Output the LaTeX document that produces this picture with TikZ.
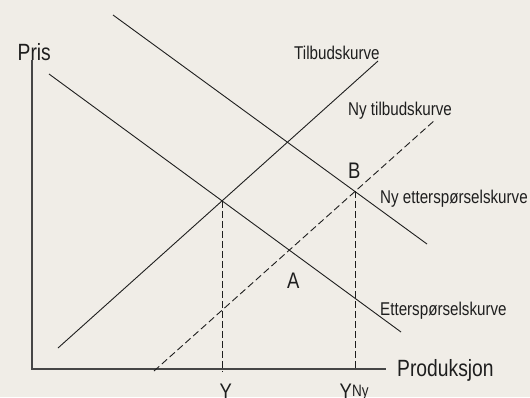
\documentclass[tikz,border=0pt]{standalone}
\usepackage{fontspec}
\setmainfont{Liberation Sans}[FakeStretch=0.82]
\usetikzlibrary{intersections}
\definecolor{bg}{RGB}{240,237,231}
\definecolor{ink}{RGB}{30,30,30}
\definecolor{axis}{RGB}{70,70,70}
\tikzset{
  curve/.style={draw=ink, line width=0.9pt},
  newcurve/.style={draw=ink, line width=0.9pt, dash pattern=on 7pt off 3.5pt},
  guide/.style={draw=ink, line width=0.9pt, dash pattern=on 7pt off 3pt},
  axisline/.style={draw=axis, line width=1.3pt},
  lab/.style={inner sep=0pt, anchor=base west, text=ink, font=\fontsize{18.5}{20}\selectfont},
  biglab/.style={inner sep=0pt, anchor=base west, text=ink, font=\fontsize{23.5}{26}\selectfont},
  ptlab/.style={inner sep=0pt, anchor=base west, text=ink, font=\fontsize{22.5}{25}\selectfont},
  suplab/.style={inner sep=0pt, anchor=base west, text=ink, font=\fontsize{16.5}{18}\selectfont}
}
\begin{document}
\begin{tikzpicture}[x=1pt,y=-1pt]
\fill[bg] (0,0) rectangle (530,397);
\useasboundingbox (0,0) rectangle (530,397);
% axes
\coordinate (O) at (32,369);
\coordinate (ytop) at (32,60);
\coordinate (xend) at (386,369);
\draw[axisline] (ytop) -- (O) -- (xend);
% curve end points
\coordinate (D1a) at (49,74);
\coordinate (D1b) at (401,332);
\coordinate (D2a) at (113,15);
\coordinate (D2b) at (427,244);
\coordinate (S1a) at (58,348);
\coordinate (S1b) at (378,61);
\coordinate (S2a) at (154,371);
\coordinate (S2b) at (435,120);
\draw[curve, name path=D1] (D1a) -- (D1b);
\draw[curve, name path=D2] (D2a) -- (D2b);
\draw[curve, name path=S1] (S1a) -- (S1b);
\draw[newcurve, name path=S2] (S2a) -- (S2b);
\path[name intersections={of=D1 and S1, by=E1}];
\path[name intersections={of=D2 and S2, by=E2}];
\coordinate (F1) at ([yshift=-3pt]E1 |- O);
\coordinate (F2) at (E2 |- O);
\draw[guide] (E1) -- (F1);
\draw[guide] (E2) -- (F2);
% labels
\node[biglab] (pris) at (17.5,60) {Pris};
\node[biglab] (prod) at (397,376.7) {Produksjon};
\node[lab] (tilb) at (294,59.3) {Tilbudskurve};
\node[lab] (nytilb) at (348,115) {Ny tilbudskurve};
\node[lab] (nyett) at (380,203.3) {Ny etterspørselskurve};
\node[lab] (ett) at (380,315) {Etterspørselskurve};
\node[ptlab] (B) at (348,178.3) {B};
\node[ptlab] (A) at (287,288.3) {A};
\node[ptlab] (Y) at (219.5,399) {Y};
\node[ptlab] (Yny) at (339.5,399) {Y};
\node[suplab] (ny) at (352,396.5) {Ny};
\end{tikzpicture}
\end{document}
